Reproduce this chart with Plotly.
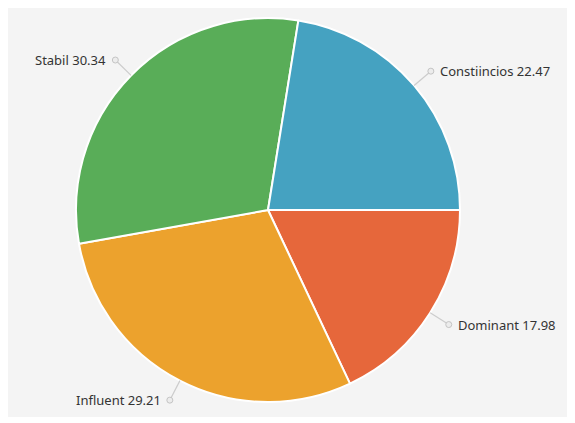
import math
import plotly.graph_objects as go

# slices in clockwise order, starting at 3 o'clock
labels = ["Dominant", "Influent", "Stabil", "Constiincios"]
values = [17.98, 29.21, 30.34, 22.47]
colors = ["#e6673b", "#eca22d", "#59ad58", "#45a2c1"]

W, H = 575, 423
OFF = 8  # the page puts the figure 8px in from the top left corner
cx, cy, r = 268 - OFF, 210 - OFF, 192  # pie centre and radius in pixels


def px(x):
    return x / W


def py(y):
    return 1 - y / H


fig = go.Figure()

fig.add_trace(go.Pie(
    labels=labels,
    values=values,
    sort=False,
    direction="clockwise",
    rotation=90,
    textinfo="none",
    hoverinfo="label+value",
    marker=dict(colors=colors, line=dict(color="white", width=2)),
    domain=dict(x=[px(cx - r), px(cx + r)], y=[py(cy + r), py(cy - r)]),
    showlegend=False,
))

# light grey panel behind the chart
shapes = [dict(type="rect", xref="paper", yref="paper", layer="below",
               x0=px(4 - OFF), x1=px(570 - OFF), y0=py(417 - OFF), y1=py(4 - OFF),
               fillcolor="#f4f4f4", line=dict(width=0))]
annotations = []

# leader lines and labels, placed at each slice's mid angle
total = sum(values)
start = 0.0
for lab, val in zip(labels, values):
    mid = math.radians((start + val / 2) / total * 360)
    start += val
    dx, dy = math.cos(mid), math.sin(mid)
    x0, y0 = cx + dx * r, cy + dy * r
    x1, y1 = cx + dx * (r + 22), cy + dy * (r + 22)
    shapes.append(dict(type="line", xref="paper", yref="paper",
                       x0=px(x0), y0=py(y0), x1=px(x1), y1=py(y1),
                       line=dict(color="#cccccc", width=1.2)))
    shapes.append(dict(type="circle", xref="paper", yref="paper",
                       x0=px(x1 - 3), x1=px(x1 + 3), y0=py(y1 + 3), y1=py(y1 - 3),
                       fillcolor="#ececec", line=dict(color="#c4c4c4", width=1)))
    right = dx >= 0
    annotations.append(dict(
        x=px(x1 + (7 if right else -7)), y=py(y1),
        xref="paper", yref="paper",
        text=f"{lab} {val:.2f}",
        showarrow=False,
        xanchor="left" if right else "right",
        yanchor="middle",
        font=dict(family="Noto Sans", size=13, color="#333333"),
    ))

fig.update_layout(
    width=W,
    height=H,
    margin=dict(l=0, r=0, t=0, b=0),
    paper_bgcolor="white",
    shapes=shapes,
    annotations=annotations,
)

fig.write_html("out.html")
